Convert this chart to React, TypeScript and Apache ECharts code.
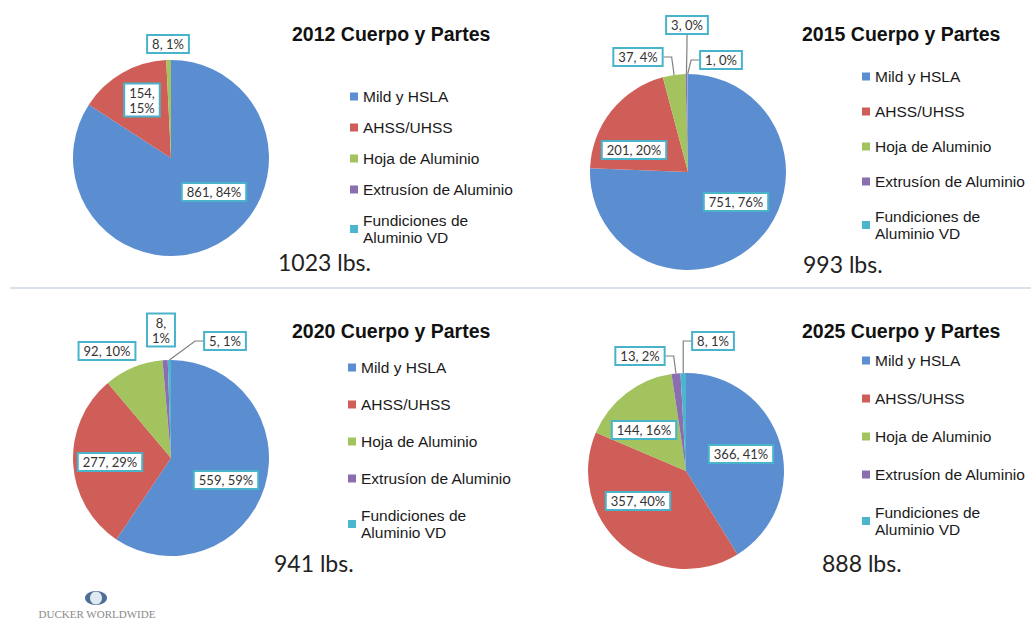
import React, { useEffect, useRef } from 'react';
import * as echarts from 'echarts';

// ---------- data ----------
const CATEGORIES = [
  'Mild y HSLA',
  'AHSS/UHSS',
  'Hoja de Aluminio',
  'Extrusíon de Aluminio',
  'Fundiciones de Aluminio VD',
];
const YEARS = ['2012', '2015', '2020', '2025'];
const VALUES_2012 = [861, 154, 8, 0, 0];
const VALUES_2015 = [751, 201, 37, 3, 1];
const VALUES_2020 = [559, 277, 92, 8, 5];
const VALUES_2025 = [366, 357, 144, 13, 8];
const VALUES = [VALUES_2012, VALUES_2015, VALUES_2020, VALUES_2025];
const TOTAL_LABELS = ['1023 lbs.', '993 lbs.', '941 lbs.', '888 lbs.'];
const TITLES = YEARS.map((y) => `${y} Cuerpo y Partes`);

// ---------- styles / layout ----------
const COLORS = ['#5A8ED0', '#CF5E59', '#A3C35E', '#8A6EAF', '#4DB5CE'];
const BOX = '#4AB3CC';

type Lab = { pos: 'inside' | 'outside'; d: [number, number]; wrap?: boolean; line?: boolean } | null;
type Panel = {
  center: [number, number];
  title: [number, number];
  legendLeft: number;
  legendTop: number;
  legendGap: number;
  total: [number, number];
  labels: Lab[];
};

const PANELS: Panel[] = [
  {
    center: [171, 158],
    title: [292, 24],
    legendLeft: 350,
    legendTop: 88,
    legendGap: 14,
    total: [278, 262],
    labels: [
      { pos: 'inside', d: [43, 34] },
      { pos: 'inside', d: [-29, -58], wrap: true },
      { pos: 'outside', d: [-3, -114] },
      null,
      null,
    ],
  },
  {
    center: [688, 172],
    title: [802, 24],
    legendLeft: 862,
    legendTop: 68,
    legendGap: 18,
    total: [803, 264],
    labels: [
      { pos: 'inside', d: [48, 30] },
      { pos: 'inside', d: [-54, -22] },
      { pos: 'outside', d: [-50, -115], line: true },
      { pos: 'outside', d: [-1, -147], line: true },
      { pos: 'outside', d: [33, -112], line: true },
    ],
  },
  {
    center: [171, 458],
    title: [292, 321],
    legendLeft: 348,
    legendTop: 359,
    legendGap: 20,
    total: [274, 563],
    labels: [
      { pos: 'inside', d: [55, 22] },
      { pos: 'inside', d: [-61, 4] },
      { pos: 'outside', d: [-64, -107] },
      { pos: 'outside', d: [-10, -128], wrap: true },
      { pos: 'outside', d: [54, -117], line: true },
    ],
  },
  {
    center: [686, 471],
    title: [802, 321],
    legendLeft: 862,
    legendTop: 352,
    legendGap: 21,
    total: [822, 563],
    labels: [
      { pos: 'inside', d: [55, -17] },
      { pos: 'inside', d: [-48, 30] },
      { pos: 'inside', d: [-42, -41] },
      { pos: 'outside', d: [-46, -115], line: true },
      { pos: 'outside', d: [27, -130], line: true },
    ],
  },
];

const RADIUS = 98;

export default function App() {
  const ref = useRef<HTMLDivElement>(null);

  useEffect(() => {
    if (!ref.current) return;
    const chart = echarts.init(ref.current, null, { renderer: 'svg' });

    const series = PANELS.map((p, s) => ({
      type: 'pie',
      center: p.center,
      radius: RADIUS,
      startAngle: 90,
      clockwise: true,
      percentPrecision: 0,
      avoidLabelOverlap: false,
      emphasis: { disabled: true },
      itemStyle: { borderWidth: 0 },
      label: {
        formatter: '{c}, {d}%',
        fontFamily: 'Lato',
        fontSize: 13,
        color: '#333333',
        backgroundColor: '#ffffff',
        borderColor: BOX,
        borderWidth: 2,
        padding: [1, 4, 0, 4],
        lineHeight: 15,
        align: 'center',
      },
      labelLine: {
        show: false,
        length: 8,
        length2: 8,
        lineStyle: { color: '#7f7f7f', width: 1.2 },
      },
      data: VALUES[s].map((v, i) => {
        const l = p.labels[i];
        return {
          name: CATEGORIES[i],
          value: v,
          itemStyle: { color: COLORS[i] },
          label: l
            ? { show: true, position: l.pos, formatter: l.wrap ? '{c},\n{d}%' : '{c}, {d}%' }
            : { show: false },
          labelLine: { show: !!(l && l.line) },
        };
      }),
      labelLayout: (params: any) => {
        const l = p.labels[params.dataIndex];
        if (!l) return {};
        return {
          x: p.center[0] + l.d[0],
          y: p.center[1] + l.d[1],
          align: 'center',
          verticalAlign: 'middle',
        };
      },
    }));

    const legends = PANELS.map((p) => ({
      orient: 'vertical',
      left: p.legendLeft,
      top: p.legendTop,
      itemGap: p.legendGap,
      itemWidth: 8,
      itemHeight: 8,
      icon: 'rect',
      padding: 0,
      selectedMode: false,
      data: CATEGORIES,
      formatter: (n: string) =>
        n === 'Fundiciones de Aluminio VD' ? 'Fundiciones de\nAluminio VD' : n,
      textStyle: {
        fontFamily: 'Liberation Sans',
        fontSize: 15.5,
        color: '#1a1a1a',
        lineHeight: 17,
      },
    }));

    const titles = PANELS.map((p, s) => ({
      text: TITLES[s],
      left: p.title[0],
      top: p.title[1],
      padding: 0,
      textStyle: {
        fontFamily: 'Liberation Sans',
        fontSize: 19.5,
        fontWeight: 'bold',
        color: '#111111',
      },
    }));

    const graphic: any[] = [
      {
        type: 'line',
        shape: { x1: 10, y1: 288, x2: 1031, y2: 288 },
        style: { stroke: '#dbe1e8', lineWidth: 2 },
        silent: true,
      },
      {
        type: 'line',
        shape: { x1: 529, y1: 4, x2: 529, y2: 592 },
        style: {
          stroke: new echarts.graphic.LinearGradient(0, 0, 0, 1, [
            { offset: 0, color: '#d3d9e0' },
            { offset: 0.9, color: '#d3d9e0' },
            { offset: 1, color: 'rgba(211,217,224,0)' },
          ]),
          lineWidth: 1.5,
        },
        silent: true,
      },
      ...PANELS.map((p, s) => ({
        type: 'text',
        x: p.total[0],
        y: p.total[1],
        style: {
          text: TOTAL_LABELS[s],
          fontFamily: 'Lato',
          fontSize: 23,
          fill: '#222222',
          verticalAlign: 'middle',
          align: 'left',
        },
        silent: true,
      })),
      // Ducker Worldwide logo
      {
        type: 'ellipse',
        shape: { cx: 96, cy: 598, rx: 11, ry: 7 },
        style: { fill: '#4d6e96' },
        silent: true,
      },
      {
        type: 'ellipse',
        shape: { cx: 96, cy: 598, rx: 6, ry: 6.5 },
        style: { fill: '#dfe9f2' },
        silent: true,
      },
      {
        type: 'text',
        x: 97,
        y: 614,
        style: {
          text: 'DUCKER WORLDWIDE',
          fontFamily: 'Liberation Serif',
          fontSize: 11,
          fill: '#8a8a8a',
          align: 'center',
          verticalAlign: 'middle',
        },
        silent: true,
      },
    ];

    chart.setOption({
      animation: false,
      backgroundColor: '#ffffff',
      title: titles,
      legend: legends,
      series,
      graphic,
    });

    return () => chart.dispose();
  }, []);

  return (
    <div
      ref={ref}
      style={{ position: 'absolute', left: 0, top: 0, width: 1031, height: 620, background: '#fff' }}
    />
  );
}
